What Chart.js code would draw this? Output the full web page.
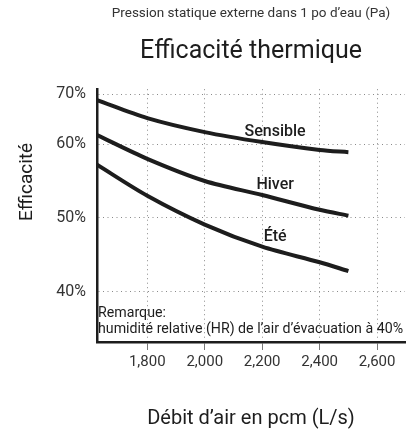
<!DOCTYPE html>
<html>
<head>
<meta charset="utf-8">
<script src="https://cdn.jsdelivr.net/npm/chart.js@4/dist/chart.umd.min.js"></script>
<style>
  html, body { margin: 0; padding: 0; background: #fff; }
</style>
</head>
<body>
<canvas id="effChart" width="413" height="433"></canvas>
<script>
// airflow in cfm (pcm)
const flows = [1625, 1800, 2000, 2200, 2400, 2500];
// efficiency in %
const sensible = [68.8, 65.2, 62.4, 60.4, 59.2, 58.9];
const hiver = [61.8, 58.0, 55.0, 53.1, 51.1, 50.3];
const ete = [57.2, 53.0, 49.1, 46.1, 44.0, 42.8];
const seriesNames = ['Sensible', 'Hiver', 'Été'];
const xTicks = [1800, 2000, 2200, 2400, 2600];
const yTicks = [40, 50, 60, 70];

const FONT = 'Roboto';
const INK = '#1d1d1d';

// the original y axis is squeezed above 60 %, so a piecewise linear scale
class PiecewiseScale extends Chart.LinearScale {
    toDecimal(v) {
        const k = this.options.knots, p = this.options.knotPos;
        for (let i = 1; i < k.length; i++) {
            if (v <= k[i] || i === k.length - 1) {
                return p[i - 1] + (v - k[i - 1]) / (k[i] - k[i - 1]) * (p[i] - p[i - 1]);
            }
        }
    }
    getPixelForValue(value) {
        return value === null ? NaN : this.getPixelForDecimal(this.toDecimal(value));
    }
    getValueForPixel(pixel) {
        const d = this.getDecimalForPixel(pixel);
        const k = this.options.knots, p = this.options.knotPos;
        for (let i = 1; i < p.length; i++) {
            if (d <= p[i] || i === p.length - 1) {
                return k[i - 1] + (d - p[i - 1]) / (p[i] - p[i - 1]) * (k[i] - k[i - 1]);
            }
        }
    }
}
PiecewiseScale.id = 'piecewise';
PiecewiseScale.defaults = Chart.LinearScale.defaults;
Chart.register(PiecewiseScale);

const toPoints = (vals) => vals.map((v, i) => ({ x: flows[i], y: v }));

const curveLabels = {
    id: 'curveLabels',
    afterDatasetsDraw(chart) {
        const { ctx, scales: { x, y }, chartArea } = chart;
        ctx.save();
        ctx.fillStyle = INK;
        ctx.textAlign = 'center';
        ctx.textBaseline = 'middle';
        ctx.font = '500 16px ' + FONT;
        const spots = [[2245, 62.4], [2245, 54.5], [2245, 47.4]];
        seriesNames.forEach((name, i) => {
            ctx.fillText(name, x.getPixelForValue(spots[i][0]), y.getPixelForValue(spots[i][1]));
        });

        // note in the bottom left corner
        ctx.textAlign = 'left';
        ctx.font = '14.2px ' + FONT;
        ctx.fillText('Remarque:', chartArea.left + 1, 313);
        ctx.fillText('humidité relative (HR) de l’air d’évacuation à 40%', chartArea.left + 1, 329);

        // y axis title, placed higher than the axis centre like the original
        ctx.translate(27, 182);
        ctx.rotate(-Math.PI / 2);
        ctx.textAlign = 'center';
        ctx.font = '19px ' + FONT;
        ctx.fillText('Efficacité', 0, 0);
        ctx.restore();
    }
};

const lineStyle = {
    borderColor: INK,
    borderWidth: 4,
    pointRadius: 0,
    tension: 0.3,
    fill: false
};

new Chart(document.getElementById('effChart').getContext('2d'), {
    type: 'line',
    data: {
        datasets: [
            { label: seriesNames[0], data: toPoints(sensible), ...lineStyle },
            { label: seriesNames[1], data: toPoints(hiver), ...lineStyle },
            { label: seriesNames[2], data: toPoints(ete), ...lineStyle }
        ]
    },
    options: {
        responsive: false,
        animation: false,
        layout: { padding: { left: 52, right: 8, top: 0, bottom: 0 } },
        plugins: {
            legend: { display: false },
            tooltip: { enabled: false },
            subtitle: {
                display: true,
                text: 'Pression statique externe dans 1 po d’eau (Pa)',
                color: '#333',
                font: { family: FONT, size: 13.5 },
                padding: { top: 6, bottom: 0 },
                fullSize: false,
                weight: 3000
            },
            title: {
                display: true,
                text: 'Efficacité thermique',
                color: INK,
                font: { family: FONT, size: 25, weight: 'normal' },
                padding: { top: 15, bottom: 22 },
                fullSize: false,
                weight: 2000
            }
        },
        scales: {
            x: {
                type: 'linear',
                min: 1625,
                max: 2697,
                afterBuildTicks: (s) => { s.ticks = xTicks.map(v => ({ value: v })); },
                afterFit: (s) => { s.height = 91; },
                ticks: {
                    color: '#333',
                    font: { family: FONT, size: 15 },
                    padding: 3,
                    maxRotation: 0,
                    callback: (v) => v.toLocaleString('en-US')
                },
                grid: {
                    color: '#8a8a8a',
                    lineWidth: 1,
                    drawTicks: true,
                    tickLength: 8,
                    tickColor: '#777',
                    tickBorderDash: []
                },
                border: { display: true, color: INK, width: 2.5, dash: [1, 3.5] },
                title: {
                    display: true,
                    text: 'Débit d’air en pcm (L/s)',
                    color: INK,
                    font: { family: FONT, size: 20 },
                    padding: { top: 0, bottom: 2 }
                }
            },
            y: {
                type: 'piecewise',
                min: 33.2,
                max: 71,
                knots: [33.2, 60, 71],
                knotPos: [0, 0.783, 1],
                afterBuildTicks: (s) => { s.ticks = yTicks.map(v => ({ value: v })); },
                afterFit: (s) => { s.width = 45; },
                ticks: {
                    color: '#333',
                    font: { family: FONT, size: 16 },
                    padding: 11,
                    callback: (v) => v + '%'
                },
                grid: {
                    color: '#8a8a8a',
                    lineWidth: 1,
                    drawTicks: false
                },
                border: { display: true, color: INK, width: 2.5, dash: [1, 3.5] }
            }
        }
    },
    plugins: [curveLabels]
});
</script>
</body>
</html>
